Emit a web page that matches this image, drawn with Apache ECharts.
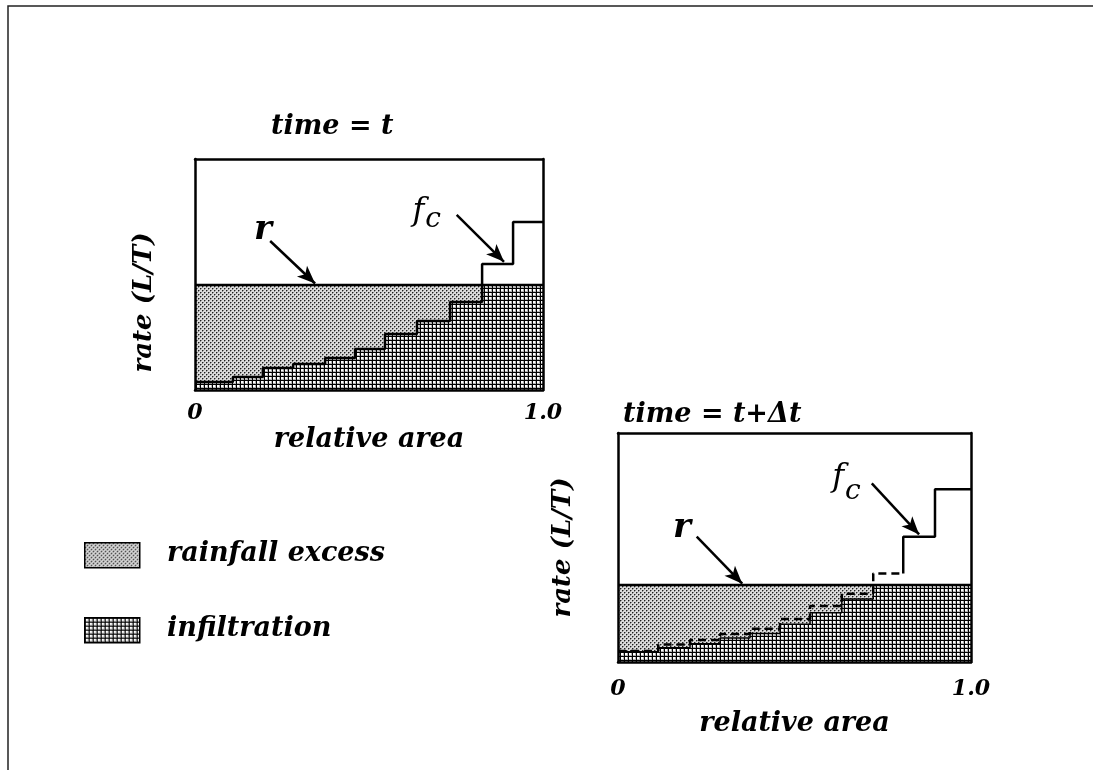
<!DOCTYPE html>
<html>
<head>
<meta charset="utf-8">
<script src="https://cdn.jsdelivr.net/npm/echarts@6/dist/echarts.min.js"></script>
<style>
  html, body { margin: 0; padding: 0; background: #fff; }
  #chart { width: 1093px; height: 770px; }
</style>
</head>
<body>
<div id="chart"></div>
<script>
// ---- data -------------------------------------------------------------
// Panel 1: time = t
const edgesT = [0, 0.109, 0.195, 0.282, 0.374, 0.46, 0.546, 0.638, 0.733, 0.825, 0.914, 1.0];
const fcT    = [0.035, 0.056, 0.095, 0.113, 0.139, 0.177, 0.242, 0.299, 0.381, 0.545, 0.727];
const rT     = 0.455;

// Panel 2: time = t + Δt
const edgesB  = [0, 0.114, 0.204, 0.289, 0.374, 0.459, 0.544, 0.634, 0.723, 0.808, 0.898, 1.0];
const fcPrevB = [0.048, 0.076, 0.096, 0.122, 0.145, 0.188, 0.245, 0.298, 0.387, 0.547, 0.754];
const fcNowB  = [0.045, 0.062, 0.080, 0.105, 0.125, 0.165, 0.215, 0.275, 0.360, 0.547, 0.754];
const rB      = 0.336;

const xTickLabels = ['0', '1.0'];
const xName = 'relative area';
const yName = 'rate (L/T)';
const titles = ['time = t', 'time = t+\u0394t'];
const legendNames = ['rainfall excess', 'infiltration'];

// ---- fill patterns ----------------------------------------------------
function stipple() {
  const c = document.createElement('canvas');
  c.width = 4; c.height = 4;
  const g = c.getContext('2d');
  g.fillStyle = '#dadada'; g.fillRect(0, 0, 4, 4);
  g.fillStyle = '#8a8a8a';
  [[1,0],[0,1],[3,2],[2,3]].forEach(p => g.fillRect(p[0], p[1], 1, 1));
  g.fillStyle = '#1e1e1e';
  g.fillRect(0, 0, 1, 1); g.fillRect(2, 2, 1, 1);
  return { image: c, repeat: 'repeat' };
}
function crossHatch() {
  const c = document.createElement('canvas');
  c.width = 4; c.height = 4;
  const g = c.getContext('2d');
  g.fillStyle = '#ffffff'; g.fillRect(0, 0, 4, 4);
  g.fillStyle = '#b4b4b4';
  g.fillRect(0, 3, 4, 1); g.fillRect(3, 0, 1, 4);
  g.fillStyle = '#000000';
  g.fillRect(0, 0, 4, 1); g.fillRect(0, 0, 1, 4);
  return { image: c, repeat: 'repeat' };
}
const rainPattern = stipple();
const infilPattern = crossHatch();

// ---- helpers ----------------------------------------------------------
function stepPoints(edges, values, from, to) {
  const pts = [];
  for (let i = from; i < to; i++) {
    pts.push([edges[i], values[i]]);
    pts.push([edges[i + 1], values[i]]);
  }
  return pts;
}
const capped = (vals, r) => vals.map(v => Math.min(v, r));

const FONT = "'DejaVu Serif', serif";
const txt = (size, weight, style) => ({
  fontFamily: FONT, fontSize: size, fontWeight: weight || 'bold',
  fontStyle: style || 'italic', color: '#000'
});

function axesFor(gridIndex, labelMargin, nameGapX, nameGapY, padY) {
  const lineStyle = { color: '#000', width: 2.5 };
  return {
    x: [
      { type: 'value', gridIndex, min: 0, max: 1, interval: 1, position: 'bottom', z: 10,
        axisLine: { show: true, lineStyle }, axisTick: { show: false }, splitLine: { show: false },
        axisLabel: { margin: labelMargin, formatter: v => (v === 0 ? xTickLabels[0] : xTickLabels[1]),
                     ...txt(22, 'bold') },
        name: xName, nameLocation: 'middle', nameGap: nameGapX, nameTextStyle: txt(27, 'bold') },
      { type: 'value', gridIndex, min: 0, max: 1, position: 'top', z: 10,
        axisLine: { show: true, onZero: false, lineStyle }, axisTick: { show: false },
        axisLabel: { show: false }, splitLine: { show: false } }
    ],
    y: [
      { type: 'value', gridIndex, min: 0, max: 1, position: 'left', z: 10,
        axisLine: { show: true, onZero: false, lineStyle }, axisTick: { show: false },
        axisLabel: { show: false }, splitLine: { show: false },
        name: yName, nameLocation: 'middle', nameGap: nameGapY, nameRotate: 90,
        nameTextStyle: { ...txt(26, 'bold'), padding: padY } },
      { type: 'value', gridIndex, min: 0, max: 1, position: 'right', z: 10,
        axisLine: { show: true, onZero: false, lineStyle }, axisTick: { show: false },
        axisLabel: { show: false }, splitLine: { show: false } }
    ]
  };
}

const a1 = axesFor(0, 12, 36, 38, [0, 56, 0, 0]);
const a2 = axesFor(1, 16, 48, 42, [0, 0, 0, 0]);

const arrowLine = (x1, y1, x2, y2) => [{ coord: [x1, y1] }, { coord: [x2, y2] }];
const arrowMark = lines => ({
  silent: true, symbol: ['none', 'arrow'], symbolSize: [11, 18],
  lineStyle: { color: '#000', width: 2.5, type: 'solid' },
  label: { show: false }, data: lines
});
const tag = (x, y, text, style) => ({
  coord: [x, y], symbol: 'circle', symbolSize: 0,
  label: { show: true, position: 'inside', formatter: text, ...style }
});

const base = { type: 'line', symbol: 'none', silent: true, animation: false };

const series = [
  // ---- panel 1 ----
  { ...base, name: legendNames[0], xAxisIndex: 0, yAxisIndex: 0, z: 2,
    data: [[0, rT], [1, rT]], lineStyle: { width: 0 },
    areaStyle: { color: rainPattern, opacity: 1 } },
  { ...base, name: legendNames[1], xAxisIndex: 0, yAxisIndex: 0, z: 3,
    data: stepPoints(edgesT, capped(fcT, rT), 0, fcT.length), lineStyle: { width: 0 },
    areaStyle: { color: infilPattern, opacity: 1 } },
  { ...base, name: 'r', xAxisIndex: 0, yAxisIndex: 0, z: 5,
    data: [[0, rT], [1, rT]], lineStyle: { color: '#000', width: 2.5 },
    markLine: arrowMark([arrowLine(0.216, 0.645, 0.345, rT + 0.006)]),
    markPoint: { silent: true, data: [tag(0.195, 0.69, 'r', txt(34, 'bold'))] } },
  { ...base, name: 'fc', xAxisIndex: 0, yAxisIndex: 0, z: 6,
    data: stepPoints(edgesT, fcT, 0, fcT.length), lineStyle: { color: '#000', width: 2.5 },
    markLine: arrowMark([arrowLine(0.752, 0.758, 0.888, fcT[9] + 0.01)]),
    markPoint: { silent: true, data: [
      tag(0.642, 0.771, 'f', txt(32, 'normal')),
      tag(0.684, 0.738, 'c', txt(28, 'normal'))
    ] } },

  // ---- panel 2 ----
  { ...base, name: legendNames[0], xAxisIndex: 2, yAxisIndex: 2, z: 2,
    data: [[0, rB], [1, rB]], lineStyle: { width: 0 },
    areaStyle: { color: rainPattern, opacity: 1 } },
  { ...base, name: legendNames[1], xAxisIndex: 2, yAxisIndex: 2, z: 3,
    data: stepPoints(edgesB, capped(fcNowB, rB), 0, fcNowB.length),
    lineStyle: { color: '#000', width: 1.5 },
    areaStyle: { color: infilPattern, opacity: 1 } },
  { ...base, name: 'r', xAxisIndex: 2, yAxisIndex: 2, z: 5,
    data: [[0, rB], [1, rB]], lineStyle: { color: '#000', width: 2.5 },
    markLine: arrowMark([arrowLine(0.223, 0.547, 0.352, rB + 0.006)]),
    markPoint: { silent: true, data: [tag(0.181, 0.585, 'r', txt(34, 'bold'))] } },
  { ...base, name: 'fc (t)', xAxisIndex: 2, yAxisIndex: 2, z: 6,
    data: stepPoints(edgesB, fcPrevB, 0, 9),
    lineStyle: { color: '#000', width: 2.5, type: [8, 5] } },
  { ...base, name: 'fc', xAxisIndex: 2, yAxisIndex: 2, z: 6,
    data: [[edgesB[9], fcPrevB[8]]].concat(stepPoints(edgesB, fcNowB, 9, fcNowB.length)),
    lineStyle: { color: '#000', width: 2.5 },
    markLine: arrowMark([arrowLine(0.719, 0.78, 0.853, fcNowB[9] + 0.01)]),
    markPoint: { silent: true, data: [
      tag(0.624, 0.803, 'f', txt(32, 'normal')),
      tag(0.665, 0.742, 'c', txt(28, 'normal'))
    ] } }
];

const legendGraphics = [];
[[rainPattern, 542], [infilPattern, 617]].forEach((it, i) => {
  legendGraphics.push({
    type: 'rect', left: 84, top: it[1], z: 20,
    shape: { width: 55, height: 25 },
    style: { fill: it[0], stroke: '#000', lineWidth: 1.5 }
  });
  legendGraphics.push({
    type: 'text', left: 167, top: it[1] - 2, z: 20,
    style: { text: legendNames[i], fill: '#000',
             font: "italic bold 27px 'DejaVu Serif', serif" }
  });
});

const option = {
  animation: false,
  backgroundColor: '#fff',
  title: [
    { text: titles[0], left: 266, top: 108, textStyle: txt(27, 'bold') },
    { text: titles[1], left: 618, top: 396, textStyle: txt(27, 'bold') }
  ],
  grid: [
    { left: 195, top: 159, width: 348, height: 231 },
    { left: 618, top: 433, width: 353, height: 229 }
  ],
  xAxis: [...a1.x.map(a => ({ ...a, gridIndex: 0 })), ...a2.x.map(a => ({ ...a, gridIndex: 1 }))],
  yAxis: [...a1.y.map(a => ({ ...a, gridIndex: 0 })), ...a2.y.map(a => ({ ...a, gridIndex: 1 }))],
  series,
  graphic: [
    { type: 'polyline', z: 20, shape: { points: [[8, 770], [8, 6], [1093, 6]] },
      style: { stroke: '#222', lineWidth: 1.5, fill: null } },
    ...legendGraphics
  ]
};

const chart = echarts.init(document.getElementById('chart'), null, { renderer: 'canvas' });
chart.setOption(option);
</script>
</body>
</html>
